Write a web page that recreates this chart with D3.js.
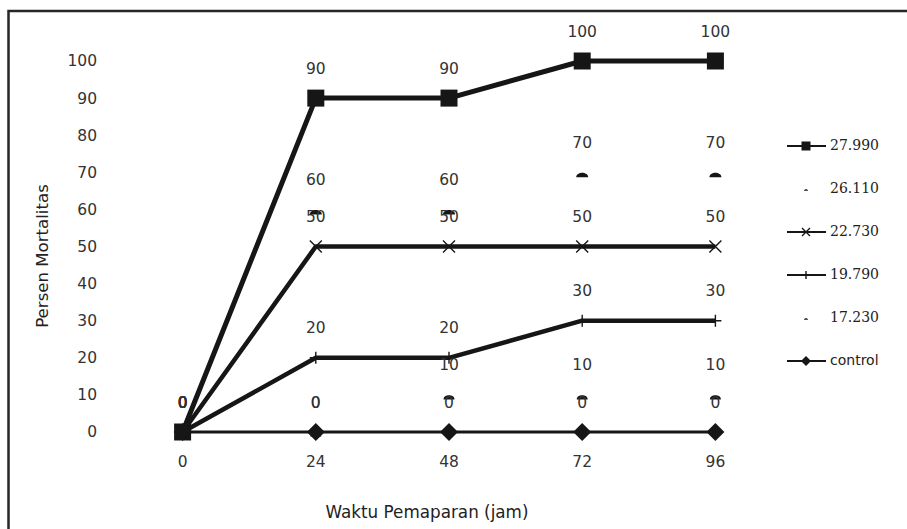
<!DOCTYPE html>
<html>
<head>
<meta charset="utf-8">
<script src="https://cdn.jsdelivr.net/npm/d3@7/dist/d3.min.js"></script>
<style>
  html, body { margin: 0; padding: 0; background: #fff; }
  svg { display: block; }
</style>
</head>
<body>
<svg id="chart" width="907" height="529"></svg>
<script>
// ---- data ----
const categories = ["0", "24", "48", "72", "96"];
const seriesNames = ["27.990", "26.110", "22.730", "19.790", "17.230", "control"];
const s27990 = [0, 90, 90, 100, 100];
const s26110 = [0, 60, 60, 70, 70];
const s22730 = [0, 50, 50, 50, 50];
const s19790 = [0, 20, 20, 30, 30];
const s17230 = [0, 0, 10, 10, 10];
const sControl = [0, 0, 0, 0, 0];
const yTickValues = [0, 10, 20, 30, 40, 50, 60, 70, 80, 90, 100];
const xTitle = "Waktu Pemaparan (jam)";
const yTitle = "Persen Mortalitas";

// ---- styles (kept separate from data) ----
const styles = [
  { line: 5,   marker: "square",  size: 17, legSize: 9 },
  { line: 0,   marker: "cap",     size: 12, legSize: 4 },
  { line: 4.5, marker: "cross",   size: 12, legSize: 8 },
  { line: 4.5, marker: "plus",    size: 12, legSize: 8 },
  { line: 0,   marker: "cap",     size: 11, legSize: 4 },
  { line: 3,   marker: "diamond", size: 18, legSize: 10 }
];
const seriesValues = [s27990, s26110, s22730, s19790, s17230, sControl];
const series = seriesNames.map((n, i) => ({ name: n, values: seriesValues[i], style: styles[i] }));

const ink = "#161616";
const svg = d3.select("#chart");

// frame
svg.append("rect").attr("x", 8.5).attr("y", 11).attr("width", 1000).attr("height", 1000)
  .attr("fill", "none").attr("stroke", "#262626").attr("stroke-width", 2.5);

const x = d3.scaleBand().domain(categories).range([116, 782]);
const xc = c => x(c) + x.bandwidth() / 2;
const y = d3.scaleLinear().domain([0, 100]).range([432, 61]);

// axes (labels only)
const yAxis = svg.append("g").attr("transform", "translate(103,0)")
  .call(d3.axisLeft(y).tickValues(yTickValues).tickSize(0).tickPadding(6));
yAxis.select(".domain").remove();
yAxis.selectAll("text").attr("font-family", "DejaVu Sans").attr("font-size", 15.5)
  .attr("fill", "#333");

const xAxis = svg.append("g").attr("transform", `translate(0,${y(0)})`)
  .call(d3.axisBottom(x).tickSize(0).tickPadding(24));
xAxis.select(".domain").remove();
xAxis.selectAll("text").attr("font-family", "DejaVu Sans").attr("font-size", 15.5)
  .attr("fill", "#333");

// titles
svg.append("text").attr("x", 427).attr("y", 513).attr("text-anchor", "middle")
  .attr("dominant-baseline", "middle").attr("font-family", "DejaVu Sans")
  .attr("font-size", 16.8).attr("fill", "#222").text(xTitle);
svg.append("text").attr("transform", "translate(43,256) rotate(-90)")
  .attr("text-anchor", "middle").attr("dominant-baseline", "middle")
  .attr("font-family", "DejaVu Sans").attr("font-size", 16.6).attr("fill", "#222").text(yTitle);

// marker drawing
function drawMarker(g, type, s) {
  const h = s / 2;
  if (type === "square") {
    g.append("rect").attr("x", -h).attr("y", -h).attr("width", s).attr("height", s).attr("fill", ink);
  } else if (type === "diamond") {
    g.append("path").attr("d", `M0,${-h}L${h},0L0,${h}L${-h},0Z`).attr("fill", ink);
  } else if (type === "cross") {
    g.append("path").attr("d", `M${-h},${-h}L${h},${h}M${-h},${h}L${h},${-h}`)
      .attr("stroke", ink).attr("stroke-width", 1.4).attr("fill", "none");
  } else if (type === "plus") {
    g.append("path").attr("d", `M${-h},0L${h},0M0,${-h}L0,${h}`)
      .attr("stroke", ink).attr("stroke-width", 1.4).attr("fill", "none");
  } else if (type === "cap") {
    const w = s / 2;
    const t = s / 12;
    g.append("path").attr("d", `M${-w},${5 * t}C${-w},${-t} ${w},${-t} ${w},${5 * t}Z`).attr("fill", ink);
  }
}

const line = d3.line().x((d, i) => xc(categories[i])).y(d => y(d));

series.forEach(sr => {
  const g = svg.append("g");
  if (sr.style.line > 0) {
    g.append("path").datum(sr.values).attr("d", line).attr("fill", "none")
      .attr("stroke", ink).attr("stroke-width", sr.style.line).attr("stroke-linejoin", "round");
  }
  sr.values.forEach((v, i) => {
    const m = g.append("g").attr("transform", `translate(${xc(categories[i])},${y(v)})`);
    drawMarker(m, sr.style.marker, sr.style.size);
  });
});

// data labels
series.forEach(sr => {
  svg.append("g").selectAll("text").data(sr.values).join("text")
    .attr("x", (d, i) => xc(categories[i]))
    .attr("y", d => y(d) - 29)
    .attr("text-anchor", "middle").attr("dominant-baseline", "middle")
    .attr("font-family", "DejaVu Sans").attr("font-size", 15.5).attr("fill", "#333")
    .text(d => d);
});

// legend
const leg = svg.append("g");
const legY = d3.scalePoint().domain(seriesNames).range([146, 361]);
series.forEach(sr => {
  const g = leg.append("g").attr("transform", `translate(806,${legY(sr.name)})`);
  if (sr.style.line > 0) {
    g.append("line").attr("x1", -19).attr("x2", 20).attr("stroke", ink).attr("stroke-width", 2);
  }
  drawMarker(g, sr.style.marker, sr.style.legSize);
  const isNum = !isNaN(+sr.name);
  g.append("text").attr("x", 24).attr("dominant-baseline", "middle")
    .attr("font-family", isNum ? "DejaVu Serif" : "DejaVu Sans")
    .attr("font-size", 14).attr("fill", "#222").text(sr.name);
});
</script>
</body>
</html>
